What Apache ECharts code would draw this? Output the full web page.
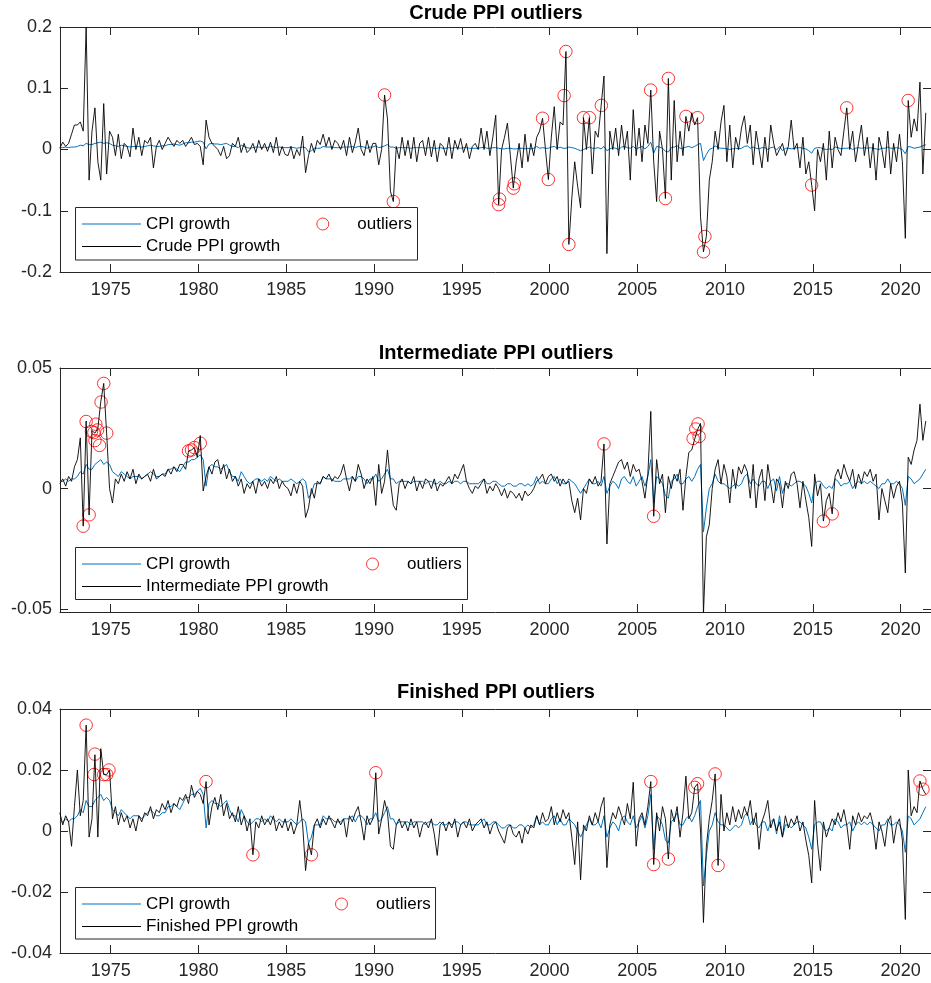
<!DOCTYPE html>
<html>
<head>
<meta charset="utf-8">
<script src="https://cdn.jsdelivr.net/npm/echarts@6/dist/echarts.min.js"></script>
<style>
html,body{margin:0;padding:0;background:#fff;}
#chart{width:931px;height:983px;}
</style>
</head>
<body>
<div id="chart"></div>
<script>
// ---------------- DATA (bimonthly samples) ----------------
// CPI growth (same series in all three panels)
const cpi = [
0.003,0.003,0.004,0.003,0.004,0.004, // 1972
0.005,0.007,0.006,0.010,0.008,0.008, // 1973
0.010,0.011,0.012,0.010,0.011,0.010, // 1974
0.007,0.006,0.005,0.007,0.006,0.005, // 1975
0.004,0.005,0.005,0.005,0.004,0.005, // 1976
0.006,0.007,0.006,0.005,0.005,0.006, // 1977
0.006,0.008,0.008,0.009,0.008,0.007, // 1978
0.009,0.011,0.011,0.012,0.012,0.013, // 1979
0.014,0.012,0.001,0.009,0.010,0.009, // 1980
0.009,0.008,0.009,0.010,0.007,0.005, // 1981
0.005,0.003,0.007,0.005,0.003,0.002, // 1982
0.003,0.004,0.004,0.003,0.004,0.003, // 1983
0.005,0.004,0.003,0.004,0.003,0.003, // 1984
0.003,0.004,0.003,0.002,0.003,0.004, // 1985
0.003,-0.004,-0.002,0.002,0.002,0.002, // 1986
0.005,0.004,0.004,0.004,0.003,0.003, // 1987
0.003,0.004,0.004,0.004,0.005,0.003, // 1988
0.005,0.005,0.004,0.002,0.004,0.004, // 1989
0.006,0.003,0.004,0.006,0.008,0.004, // 1990
0.004,0.002,0.003,0.003,0.003,0.003, // 1991
0.002,0.003,0.003,0.003,0.003,0.002, // 1992
0.003,0.003,0.002,0.002,0.003,0.002, // 1993
0.002,0.003,0.002,0.003,0.003,0.002, // 1994
0.003,0.003,0.002,0.002,0.002,0.002, // 1995
0.003,0.004,0.002,0.002,0.003,0.003, // 1996
0.002,0.001,0.001,0.002,0.002,0.001, // 1997
0.001,0.002,0.002,0.001,0.002,0.001, // 1998
0.002,0.005,0.002,0.003,0.002,0.002, // 1999
0.004,0.005,0.002,0.004,0.002,0.002, // 2000
0.004,0.003,0.002,0.000,-0.002,0.000, // 2001
0.002,0.004,0.002,0.002,0.003,0.001, // 2002
0.005,-0.002,0.001,0.003,0.002,0.000, // 2003
0.004,0.005,0.003,0.002,0.005,0.001, // 2004
0.003,0.005,0.001,0.005,0.012,-0.006, // 2005
0.005,0.004,0.002,-0.003,-0.004,0.003, // 2006
0.004,0.006,0.002,0.002,0.004,0.005, // 2007
0.003,0.005,0.008,0.010,-0.018,-0.008, // 2008
0.000,0.002,0.006,0.003,0.002,0.002, // 2009
0.001,0.000,0.001,0.002,0.001,0.002, // 2010
0.005,0.006,0.002,0.004,0.002,0.001, // 2011
0.003,0.003,0.000,0.003,0.004,-0.001, // 2012
0.005,-0.002,0.002,0.002,0.001,0.002, // 2013
0.003,0.003,0.002,0.001,-0.002,-0.006, // 2014
0.002,0.003,0.003,0.001,0.000,0.001, // 2015
0.000,0.004,0.003,0.001,0.002,0.002, // 2016
0.003,0.000,0.002,0.003,0.002,0.003, // 2017
0.002,0.003,0.002,0.001,0.000,0.002, // 2018
0.002,0.004,0.002,0.002,0.003,0.002, // 2019
0.000,-0.007,0.005,0.004,0.002,0.003, // 2020
0.004,0.006,0.008 // 2021
];

// Crude PPI growth
const crude = [
0.002,0.012,0.005,0.010,0.025,0.040, // 1972
0.040,0.045,0.030,0.200,-0.050,0.030, // 1973
0.068,-0.020,-0.050,0.075,-0.040,0.030, // 1974
0.020,-0.010,0.025,-0.015,0.010,0.005, // 1975
-0.012,0.035,0.000,0.020,-0.010,0.015, // 1976
0.010,0.020,-0.030,0.005,0.015,0.000, // 1977
0.010,0.020,0.012,0.005,0.015,0.010, // 1978
0.015,0.005,0.012,0.020,0.008,0.010, // 1979
0.005,-0.025,0.048,0.020,0.010,0.005, // 1980
0.000,-0.010,0.005,-0.015,-0.010,0.010, // 1981
0.005,0.020,-0.005,0.010,-0.005,0.000, // 1982
0.010,-0.005,0.015,0.000,0.010,-0.003, // 1983
0.012,-0.005,0.020,-0.010,0.005,-0.008, // 1984
-0.010,0.005,-0.015,0.000,-0.010,0.022, // 1985
-0.038,-0.010,0.010,-0.005,0.015,0.008, // 1986
0.025,0.005,0.020,0.000,0.015,0.010, // 1987
0.000,0.015,-0.010,0.020,-0.005,0.012, // 1988
0.035,0.000,-0.010,0.015,-0.005,0.010, // 1989
0.010,-0.025,0.000,0.089,0.050,-0.068, // 1990
-0.085,0.005,-0.015,0.020,-0.010,0.015, // 1991
-0.015,0.020,-0.020,0.010,0.015,-0.010, // 1992
0.020,-0.012,0.015,-0.020,0.010,0.005, // 1993
-0.010,0.020,-0.015,0.015,0.000,0.018, // 1994
-0.005,0.010,-0.015,0.005,0.010,0.000, // 1995
0.035,0.000,0.030,-0.010,0.020,0.056, // 1996
-0.090,0.000,0.020,0.043,-0.010,-0.063, // 1997
-0.020,0.010,-0.030,0.025,-0.020,0.010, // 1998
-0.010,0.020,0.030,0.051,0.000,-0.049, // 1999
0.020,0.070,0.000,0.045,0.040,0.160, // 2000
-0.155,-0.080,-0.020,-0.060,-0.095,0.052, // 2001
0.000,0.052,-0.040,0.030,0.020,0.070, // 2002
0.120,-0.170,0.030,0.000,0.035,-0.010, // 2003
0.040,0.000,0.030,-0.050,0.065,-0.010, // 2004
0.035,-0.020,0.040,0.010,0.097,-0.020, // 2005
-0.085,0.030,0.000,-0.080,0.116,-0.050, // 2006
0.080,-0.020,0.030,-0.010,0.054,0.030, // 2007
0.060,0.040,0.052,-0.110,-0.167,-0.142, // 2008
-0.050,-0.020,0.030,0.000,0.045,0.072, // 2009
-0.020,0.040,-0.030,0.020,0.000,0.035, // 2010
0.055,0.010,0.040,-0.025,0.030,0.000, // 2011
-0.030,0.020,-0.020,0.040,0.010,-0.010, // 2012
0.000,0.010,-0.010,0.005,0.048,0.000, // 2013
0.010,-0.030,0.020,-0.040,-0.020,-0.058, // 2014
-0.100,0.000,-0.020,0.010,-0.050,0.030, // 2015
-0.030,0.020,0.000,-0.010,0.030,0.068, // 2016
0.000,0.030,-0.020,0.010,0.040,-0.010, // 2017
0.020,-0.030,0.010,-0.050,0.020,0.000, // 2018
-0.030,0.030,-0.040,0.010,-0.020,0.025, // 2019
-0.020,-0.145,0.080,0.020,0.050,0.030, // 2020
0.110,-0.040,0.060 // 2021
];

// Intermediate PPI growth
const intermediate = [
0.002,0.004,0.001,0.005,0.003,0.009, // 1972
0.012,0.021,-0.0156,0.028,-0.011,0.024, // 1973
0.023,0.025,0.036,0.0436,0.023,0.000, // 1974
-0.006,0.004,0.002,0.006,0.003,0.007, // 1975
0.004,0.008,0.002,0.006,0.004,0.005, // 1976
0.006,0.003,0.008,0.004,0.005,0.006, // 1977
0.005,0.008,0.006,0.009,0.007,0.010, // 1978
0.010,0.008,0.0156,0.016,0.017,0.013, // 1979
0.022,-0.001,0.005,0.009,0.006,0.011, // 1980
0.012,0.006,0.010,0.004,0.008,0.003, // 1981
0.005,0.001,0.004,-0.002,0.002,0.000, // 1982
0.003,-0.002,0.004,0.001,0.003,0.000, // 1983
0.004,0.002,0.005,0.000,0.003,0.001, // 1984
0.000,-0.003,0.002,-0.002,0.003,0.001, // 1985
-0.012,-0.008,0.000,-0.004,0.003,0.002, // 1986
0.005,0.004,0.006,0.003,0.005,0.004, // 1987
0.006,0.010,0.004,-0.001,0.005,0.003, // 1988
0.010,0.006,0.000,0.004,0.002,0.005, // 1989
-0.007,0.010,-0.002,0.003,0.016,0.003, // 1990
-0.007,-0.009,0.002,0.004,0.000,0.003, // 1991
0.002,0.005,-0.001,0.003,0.000,0.004, // 1992
0.003,0.000,0.004,-0.001,0.002,0.001, // 1993
0.003,0.005,0.002,0.006,0.004,0.007, // 1994
0.010,0.003,0.000,-0.002,0.001,0.000, // 1995
0.002,0.004,-0.002,0.001,-0.001,0.002, // 1996
0.000,-0.003,0.000,-0.004,-0.001,-0.002, // 1997
-0.004,-0.002,-0.005,-0.001,-0.003,-0.002, // 1998
0.000,0.003,0.004,0.006,0.002,0.005, // 1999
0.006,0.003,0.005,0.001,0.004,0.002, // 2000
0.003,-0.005,-0.010,-0.004,-0.013,0.000, // 2001
-0.002,0.004,0.002,0.005,0.001,0.003, // 2002
0.0185,-0.023,0.002,0.005,0.008,0.011, // 2003
0.012,0.008,0.011,0.005,0.010,0.007, // 2004
0.008,0.003,-0.004,0.006,0.032,-0.0115, // 2005
0.012,0.002,0.006,-0.010,0.005,0.000, // 2006
0.006,0.003,0.008,-0.009,0.005,0.015, // 2007
0.016,0.0205,0.0245,0.027,-0.052,-0.020, // 2008
-0.015,0.000,0.008,0.012,0.002,0.010, // 2009
0.005,-0.006,0.008,0.000,0.009,0.006, // 2010
0.010,0.007,-0.004,0.010,-0.008,0.004, // 2011
0.008,-0.005,0.010,0.002,-0.006,0.004, // 2012
0.002,-0.008,0.003,0.000,0.006,0.007, // 2013
0.002,-0.008,0.003,-0.005,-0.012,-0.024, // 2014
0.006,-0.003,0.002,-0.0135,-0.005,-0.002, // 2015
-0.0105,0.005,0.008,0.004,0.010,0.006, // 2016
0.003,0.008,0.000,0.006,0.002,0.007, // 2017
0.005,0.008,0.003,0.006,-0.013,0.000, // 2018
-0.005,-0.010,0.002,-0.004,0.001,0.003, // 2019
-0.006,-0.035,0.013,0.010,0.016,0.020, // 2020
0.035,0.020,0.028 // 2021
];

// Finished PPI growth
const finished = [
0.006,0.002,0.005,0.003,-0.005,0.008, // 1972
0.020,0.005,0.010,0.0347,-0.002,0.004, // 1973
0.025,-0.002,0.027,0.0185,0.0185,0.020, // 1974
0.004,0.008,0.002,0.006,0.003,0.005, // 1975
0.001,0.004,0.000,0.005,0.003,0.006, // 1976
0.005,0.008,0.004,0.007,0.006,0.009, // 1977
0.007,0.010,0.006,0.009,0.008,0.011, // 1978
0.010,0.012,0.009,0.015,0.011,0.013, // 1979
0.012,0.009,0.0162,0.002,0.008,0.011, // 1980
0.007,0.012,0.005,0.009,0.004,0.006, // 1981
0.003,0.008,0.002,0.005,0.000,0.004, // 1982
-0.0078,0.003,0.001,0.005,0.002,0.004, // 1983
0.002,0.005,0.000,0.003,0.001,0.004, // 1984
0.000,0.003,-0.001,0.002,0.010,0.002, // 1985
-0.013,-0.004,-0.0078,0.002,0.004,0.001, // 1986
0.004,0.002,0.005,0.003,0.001,0.004, // 1987
0.002,0.004,-0.002,0.005,0.003,0.006, // 1988
0.008,0.003,-0.003,0.005,0.002,0.004, // 1989
0.0191,-0.001,0.004,0.010,0.006,-0.005, // 1990
-0.006,0.002,0.004,0.001,0.003,0.000, // 1991
0.004,0.001,0.003,-0.002,0.002,0.003, // 1992
0.001,0.004,-0.001,-0.008,0.002,0.003, // 1993
0.000,0.003,0.001,0.004,-0.002,0.002, // 1994
0.003,0.001,0.004,0.000,0.002,0.003, // 1995
0.004,0.001,0.003,-0.001,0.002,0.003, // 1996
0.000,-0.002,-0.004,0.001,0.002,-0.001, // 1997
-0.002,0.000,-0.004,0.001,-0.001,0.002, // 1998
0.001,0.005,0.002,0.006,0.003,0.004, // 1999
0.008,0.002,0.006,0.003,0.007,0.004, // 2000
0.006,-0.002,-0.011,0.003,-0.016,0.002, // 2001
0.000,0.005,0.002,0.006,0.003,0.008, // 2002
0.011,-0.012,0.002,0.006,0.004,0.008, // 2003
0.005,0.002,0.009,0.004,0.016,-0.005, // 2004
0.004,0.006,0.002,0.008,0.0162,-0.011, // 2005
0.006,0.000,0.008,0.004,-0.0092,0.007, // 2006
0.003,0.008,-0.002,0.006,0.018,0.004, // 2007
0.006,0.0143,0.0155,0.000,-0.030,-0.005, // 2008
0.004,0.010,0.0187,-0.0113,0.012,0.000, // 2009
0.006,0.002,0.008,0.003,0.007,0.004, // 2010
0.008,0.005,0.010,0.002,0.006,-0.006, // 2011
0.003,0.006,0.010,0.001,0.004,0.000, // 2012
0.003,-0.002,0.005,0.001,0.004,0.002, // 2013
0.005,0.000,0.003,-0.003,-0.008,-0.017, // 2014
0.010,-0.004,-0.013,0.003,-0.002,0.001, // 2015
0.004,0.002,0.006,0.003,0.007,0.002, // 2016
-0.006,0.005,0.002,0.006,0.003,0.005, // 2017
0.004,0.006,0.002,-0.006,0.003,0.000, // 2018
-0.005,0.003,0.005,-0.004,0.002,0.004, // 2019
-0.003,-0.029,0.020,0.005,0.008,0.006, // 2020
0.0164,0.0137,0.012 // 2021
];

// Outliers: [year, value]
const crudeOutliers = [
[1990.6,0.089],[1991.1,-0.085],[1997.1,-0.090],[1997.15,-0.081],[1997.93,-0.063],[1997.99,-0.056],
[1999.6,0.051],[1999.93,-0.049],[2000.83,0.088],[2000.93,0.160],[2001.1,-0.155],[2001.93,0.052],
[2002.27,0.052],[2002.95,0.072],[2005.76,0.097],[2006.6,-0.080],[2006.77,0.116],[2007.77,0.054],
[2008.43,0.052],[2008.77,-0.167],[2008.85,-0.142],[2014.93,-0.058],[2016.93,0.068],[2020.43,0.080]
];
const intermediateOutliers = [
[1973.43,-0.0156],[1973.6,0.0278],[1973.77,-0.0109],[1973.9,0.0237],[1974.04,0.0232],[1974.1,0.0199],
[1974.15,0.0267],[1974.25,0.0243],[1974.36,0.0179],[1974.45,0.0359],[1974.6,0.0436],[1974.77,0.0230],
[1979.43,0.0156],[1979.6,0.0160],[1979.77,0.0170],[1980.1,0.0188],[2003.1,0.0185],[2005.93,-0.0115],
[2008.18,0.0208],[2008.33,0.0247],[2008.46,0.0268],[2008.52,0.0216],[2015.6,-0.0135],[2016.1,-0.0105]
];
const finishedOutliers = [
[1973.6,0.0347],[1974.1,0.0252],[1974.05,0.0185],[1974.6,0.0185],[1974.77,0.0185],[1974.9,0.0200],
[1980.43,0.0162],[1983.1,-0.0078],[1986.43,-0.0078],[1990.1,0.0191],[2005.77,0.0162],[2005.93,-0.0110],
[2006.77,-0.0092],[2008.27,0.0143],[2008.43,0.0155],[2009.43,0.0187],[2009.6,-0.0113],[2021.1,0.0164],
[2021.27,0.0137]
];

// Tick labels
const xTicks = [1975,1980,1985,1990,1995,2000,2005,2010,2015,2020];
const yTicksCrude = [-0.2,-0.1,0,0.1,0.2];
const yTicksIntermediate = [-0.05,0,0.05];
const yTicksFinished = [-0.04,-0.02,0,0.02,0.04];

// Sample dates: bimonthly from Feb 1972
const dates = cpi.map((_, i) => Math.round((1972.1 + i / 6) * 1000) / 1000);

// ---------------- LAYOUT ----------------
const FONT = "'Liberation Sans', Arial, Helvetica, sans-serif";
const AX = '#262626';
const X_MIN = 1972.11, X_MAX = 2021.73;
const GRID_LEFT = 60, GRID_W = 876;

const panels = [
  {title:'Crude PPI outliers', titleY:13, top:27, height:245, yMin:-0.2, yMax:0.2, yTicks:yTicksCrude,
   ppi:crude, ppiName:'Crude PPI growth', out:crudeOutliers,
   box:[75.5,207.5,342,52.5], legTop:215.5, outLeft:316.3},
  {title:'Intermediate PPI outliers', titleY:353, top:368, height:244, yMin:-0.0512, yMax:0.05, yTicks:yTicksIntermediate,
   ppi:intermediate, ppiName:'Intermediate PPI growth', out:intermediateOutliers,
   box:[75.5,547.5,392,52], legTop:555.5, outLeft:366},
  {title:'Finished PPI outliers', titleY:692, top:709, height:244, yMin:-0.04, yMax:0.04, yTicks:yTicksFinished,
   ppi:finished, ppiName:'Finished PPI growth', out:finishedOutliers,
   box:[75.5,887.5,360,51.5], legTop:895.5, outLeft:335}
];

const fmt = v => String(Math.round(v * 10000) / 10000);

const grid = [], xAxis = [], yAxis = [], series = [], legend = [], graphic = [];
panels.forEach((p, i) => {
  grid.push({left: GRID_LEFT, top: p.top, width: GRID_W, height: p.height, containLabel: false});
  const tickStyle = {show: true, inside: true, length: 8, lineStyle: {color: AX, width: 1}};
  xAxis.push({type:'value', gridIndex:i, position:'bottom', min:X_MIN, max:X_MAX,
    axisLine:{show:true, onZero:false, lineStyle:{color:AX, width:1}},
    axisTick:Object.assign({customValues:xTicks}, tickStyle),
    axisLabel:{show:true, customValues:xTicks, formatter:v => String(v), color:AX, fontSize:18, fontFamily:FONT, margin:9},
    splitLine:{show:false}});
  xAxis.push({type:'value', gridIndex:i, position:'top', min:X_MIN, max:X_MAX,
    axisLine:{show:true, onZero:false, lineStyle:{color:AX, width:1}},
    axisTick:Object.assign({customValues:xTicks}, tickStyle),
    axisLabel:{show:false}, splitLine:{show:false}});
  yAxis.push({type:'value', gridIndex:i, position:'left', min:p.yMin, max:p.yMax,
    axisLine:{show:true, onZero:false, lineStyle:{color:AX, width:1}},
    axisTick:Object.assign({customValues:p.yTicks}, tickStyle),
    axisLabel:{show:true, customValues:p.yTicks, formatter:fmt, color:AX, fontSize:18, fontFamily:FONT, margin:8},
    splitLine:{show:false}});
  yAxis.push({type:'value', gridIndex:i, position:'right', min:p.yMin, max:p.yMax,
    axisLine:{show:true, onZero:false, lineStyle:{color:AX, width:1}},
    axisTick:Object.assign({customValues:p.yTicks}, tickStyle),
    axisLabel:{show:false}, splitLine:{show:false}});

  series.push({name:'CPI growth', type:'line', xAxisIndex:2*i, yAxisIndex:2*i,
    data:dates.map((d, k) => [d, cpi[k]]), symbol:'none', showSymbol:false,
    lineStyle:{color:'#0072BD', width:1}, itemStyle:{color:'#0072BD'}, z:2, silent:true});
  series.push({name:'outliers', type:'scatter', xAxisIndex:2*i, yAxisIndex:2*i,
    data:p.out, symbol:'circle', symbolSize:12.5,
    itemStyle:{color:'rgba(0,0,0,0)', borderColor:'#ff0000', borderWidth:1}, z:3, silent:true});
  series.push({name:p.ppiName, type:'line', xAxisIndex:2*i, yAxisIndex:2*i,
    data:dates.map((d, k) => [d, p.ppi[k]]), symbol:'none', showSymbol:false,
    lineStyle:{color:'#000000', width:0.9}, itemStyle:{color:'#000000'}, z:4, silent:true});

  graphic.push({type:'rect', z:20, silent:true,
    shape:{x:p.box[0], y:p.box[1], width:p.box[2], height:p.box[3]},
    style:{fill:'#ffffff', stroke:AX, lineWidth:1}});
  graphic.push({type:'text', z:20, silent:true, x:GRID_LEFT + GRID_W / 2 - 2, y:p.titleY,
    style:{text:p.title, fill:'#000', font:'bold 20px ' + FONT, textAlign:'center', textVerticalAlign:'middle'}});

  legend.push({orient:'vertical', left:82, top:p.legTop, padding:0, itemGap:5.5,
    itemWidth:59, itemHeight:1.2, icon:'rect', selectedMode:false, z:30,
    itemStyle:{borderWidth:0},
    textStyle:{fontSize:17, color:'#000', fontFamily:FONT},
    data:[{name:'CPI growth'}, {name:p.ppiName}]});
  legend.push({orient:'vertical', left:p.outLeft, top:p.legTop, padding:0,
    itemWidth:59, itemHeight:12, selectedMode:false, z:30,
    textStyle:{fontSize:17, color:'#000', fontFamily:FONT},
    data:[{name:'outliers', icon:'circle', itemStyle:{color:'rgba(0,0,0,0)', borderColor:'#ff0000', borderWidth:1}}]});
});

const chart = echarts.init(document.getElementById('chart'), null, {renderer:'canvas'});
chart.setOption({
  animation:false,
  backgroundColor:'#ffffff',
  grid, xAxis, yAxis, series, legend, graphic
});
</script>
</body>
</html>
